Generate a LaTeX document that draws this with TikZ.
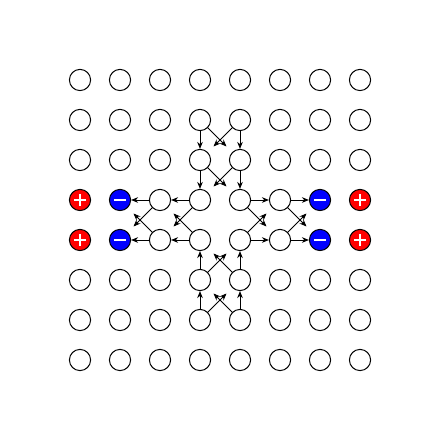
\documentclass[tikz,border=0pt]{standalone}
\usepackage{tikz}
\usetikzlibrary{arrows.meta}

\begin{document}
\begin{tikzpicture}[
        site/.style={draw, circle, minimum size=0.53cm, inner sep=0pt, line width=0.7pt},
        plus/.style={site, fill=red, path picture={
            \draw[white, line width=2pt]
                (path picture bounding box.center) +(-0.15,0) -- +(0.15,0)
                (path picture bounding box.center) +(0,-0.15) -- +(0,0.15);}},
        minus/.style={site, fill=blue, path picture={
            \draw[white, line width=2pt]
                (path picture bounding box.center) +(-0.15,0) -- +(0.15,0);}},
        arr/.style={-{Stealth[length=5pt, width=4pt]}, line width=0.7pt},
        darr/.style={arr, shorten >=0.2cm}
    ]
    \useasboundingbox (-2,-2) rectangle (9,9);

    % lattice sites
    \foreach \j in {0,1,2,5,6,7}
        \foreach \i in {0,...,7}
            \node[site] (n\i\j) at (\i, 7-\j) {};
    \foreach \j in {3,4} {
        \foreach \i in {2,...,5}
            \node[site] (n\i\j) at (\i, 7-\j) {};
        \node[plus]  (n0\j) at (0, 7-\j) {};
        \node[minus] (n1\j) at (1, 7-\j) {};
        \node[minus] (n6\j) at (6, 7-\j) {};
        \node[plus]  (n7\j) at (7, 7-\j) {};
    }

    % vertical branches
    \foreach \a/\b in {1/2, 2/3, 6/5, 5/4} {
        \draw[arr]  (n3\a) -- (n3\b);
        \draw[arr]  (n4\a) -- (n4\b);
        \draw[darr] (n3\a) -- (n4\b);
        \draw[darr] (n4\a) -- (n3\b);
    }
    % horizontal branches
    \foreach \a/\b in {3/2, 2/1, 4/5, 5/6} {
        \draw[arr]  (n\a3) -- (n\b3);
        \draw[arr]  (n\a4) -- (n\b4);
        \draw[darr] (n\a3) -- (n\b4);
        \draw[darr] (n\a4) -- (n\b3);
    }
\end{tikzpicture}
\end{document}
